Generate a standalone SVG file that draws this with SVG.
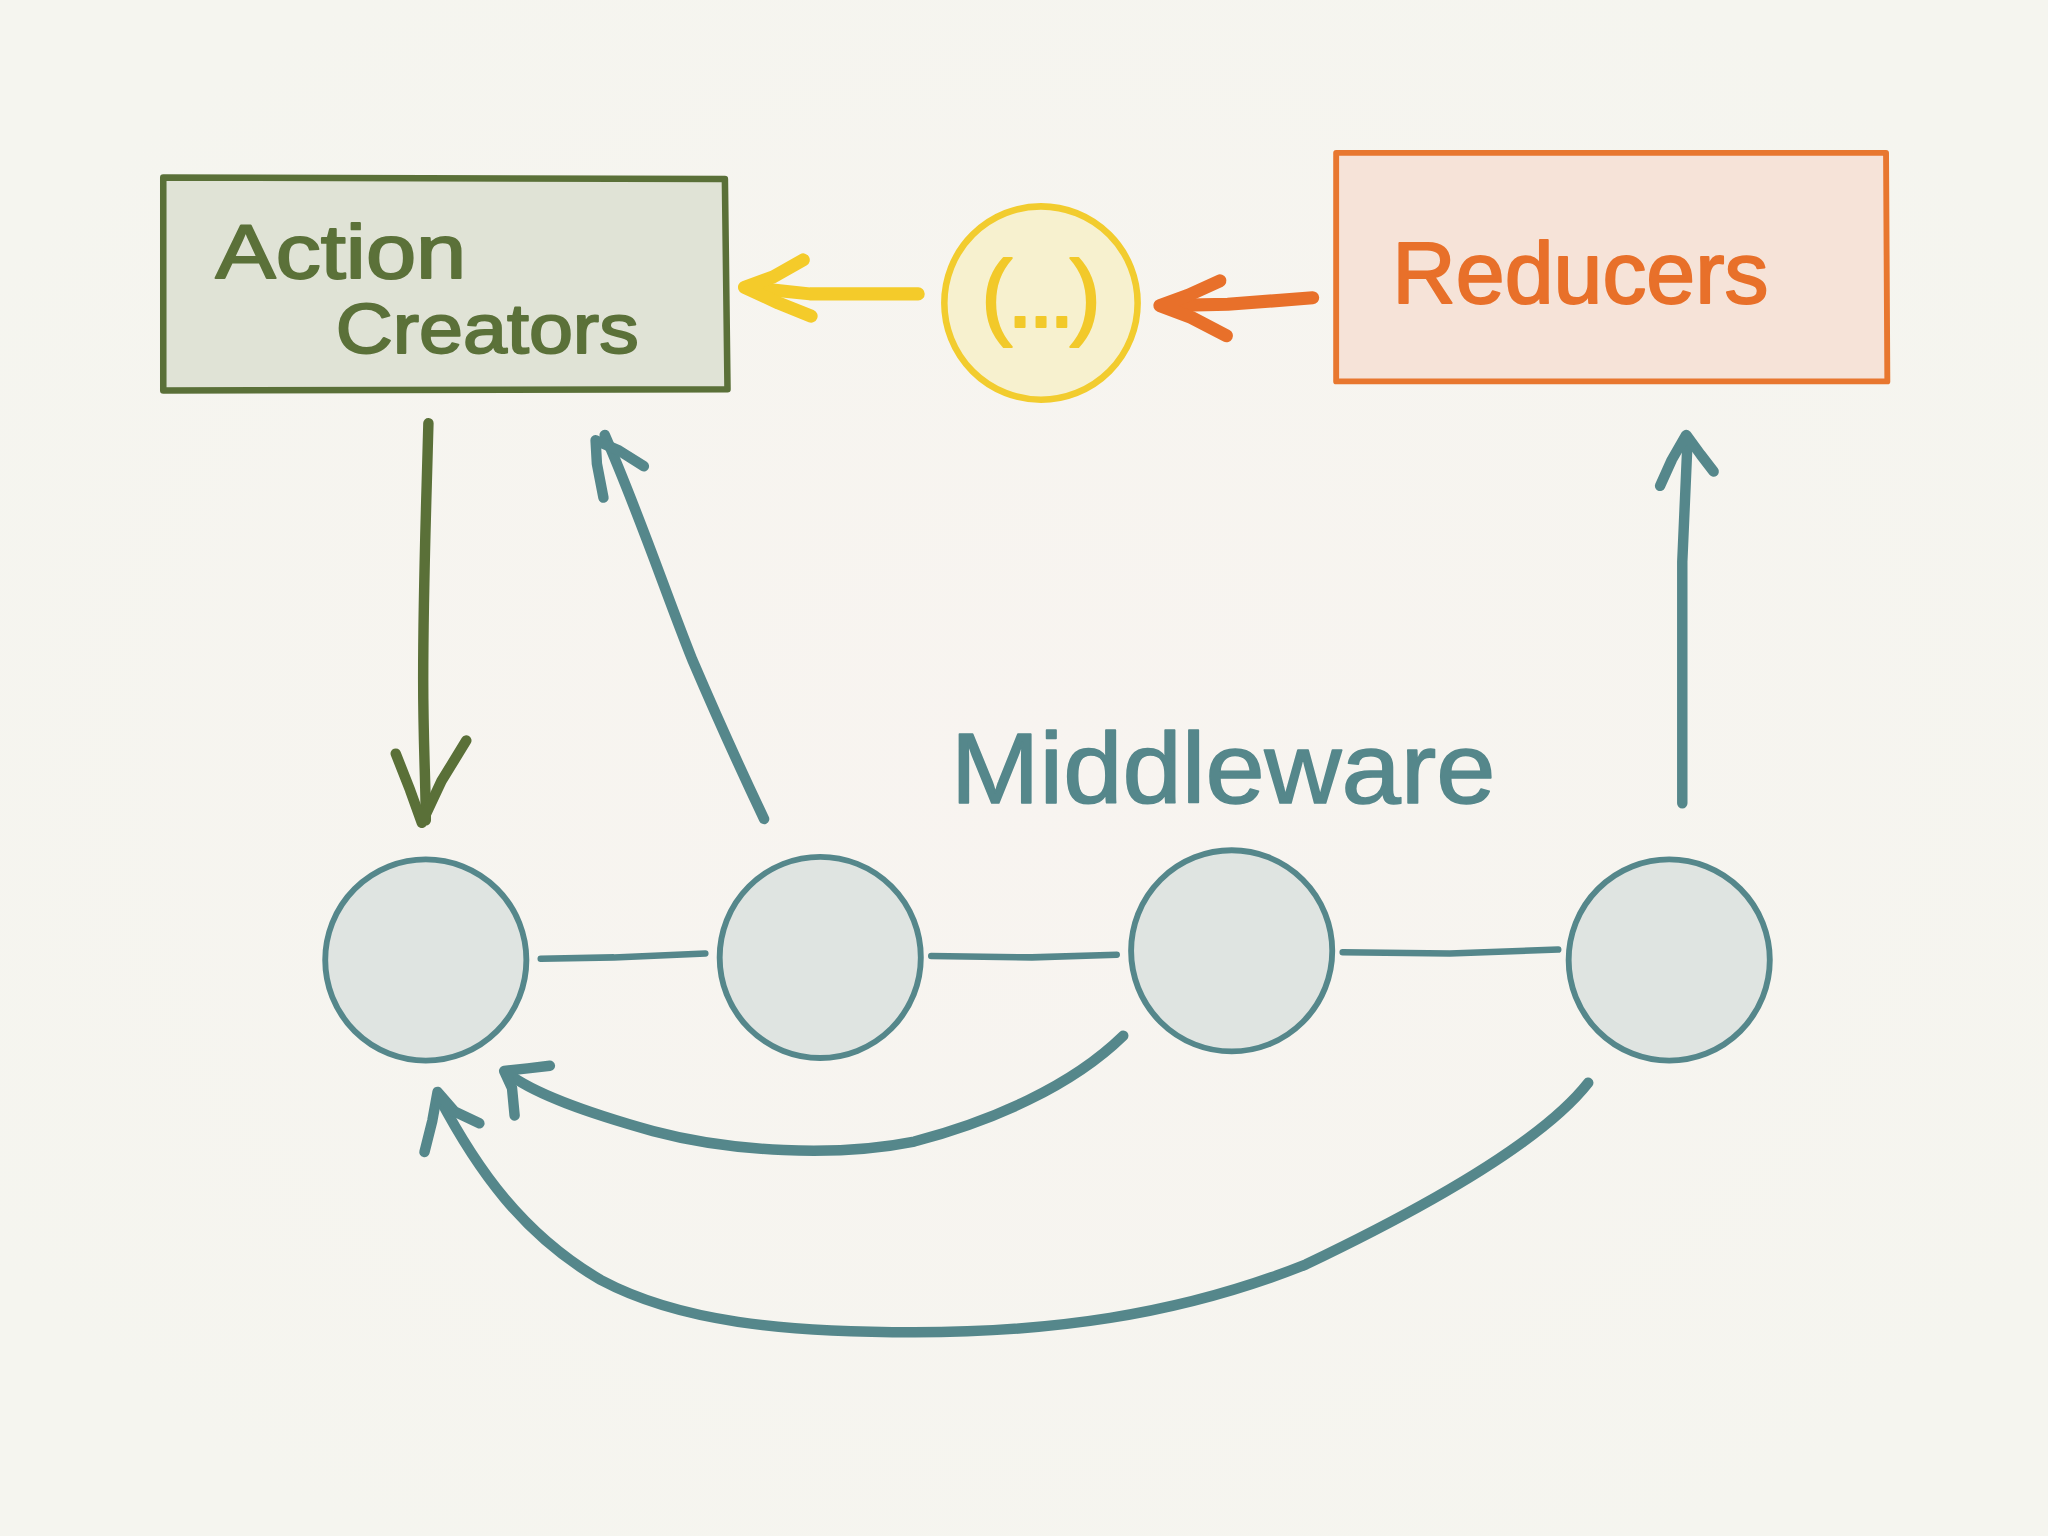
<svg xmlns="http://www.w3.org/2000/svg" width="2048" height="1536" viewBox="0 0 2048 1536">
<defs>
<radialGradient id="bg" cx="50%" cy="50%" r="60%">
<stop offset="0" stop-color="#f8f4f0"/>
<stop offset="1" stop-color="#f5f5ef"/>
</radialGradient>
<style>
.teal{fill:none;stroke:#55878b;stroke-linecap:round;stroke-linejoin:round}
.node{fill:#dfe4e1;stroke:#55878b;stroke-width:4.5}
.lbl{font-family:"Liberation Sans","DejaVu Sans",sans-serif;stroke-linejoin:round}
.arr{fill:none;stroke-linecap:round;stroke-linejoin:round}
</style>
</defs>
<rect width="2048" height="1536" fill="url(#bg)"/>
<g transform="scale(1.306122)">
<g id="action-creators">
<path d="M125,136 L555,137 L557,298 L125,299 Z" fill="#e0e3d6" stroke="#5a7038" stroke-width="5" stroke-linejoin="round"/>
<text class="lbl" x="165" y="213" font-size="58" fill="#5b7139" stroke="#5b7139" stroke-width="1.5" textLength="192" lengthAdjust="spacingAndGlyphs">Action</text>
<text class="lbl" x="257" y="270" font-size="54" fill="#5b7139" stroke="#5b7139" stroke-width="1.5" textLength="232" lengthAdjust="spacingAndGlyphs">Creators</text>
</g>
<g id="reducers">
<path d="M1023,117 L1444,117 L1445,292 L1023,292 Z" fill="#f6e3d8" stroke="#e8772f" stroke-width="4.5" stroke-linejoin="round"/>
<text class="lbl" x="1066" y="232" font-size="66" fill="#e8702a" stroke="#e8702a" stroke-width="1.5" textLength="288" lengthAdjust="spacingAndGlyphs">Reducers</text>
</g>
<g id="selector">
<circle cx="797" cy="232" r="74" fill="#f7f1cf" stroke="#f2cc2e" stroke-width="5"/>
<text class="lbl" x="797" y="250" font-size="72" fill="#f2c92a" stroke="#f2c92a" stroke-width="1.5" text-anchor="middle" textLength="92" lengthAdjust="spacing">(...)</text>
</g>
<g id="middleware-label">
<text class="lbl" x="728" y="615" font-size="76" fill="#55878b" stroke="#55878b" stroke-width="1.2" textLength="417" lengthAdjust="spacingAndGlyphs">Middleware</text>
</g>
<g id="mw1"><circle class="node" cx="326" cy="735" r="77"/></g>
<g id="mw2"><circle class="node" cx="628" cy="733" r="77"/></g>
<g id="mw3"><circle class="node" cx="943" cy="728" r="77"/></g>
<g id="mw4"><circle class="node" cx="1278" cy="735" r="77"/></g>
<g id="connectors">
<path class="arr" d="M703,225 L620,225 L572,220" stroke="#f4cb2a" stroke-width="10"/>
<path class="arr" d="M615,199 L592,212 L570,220 L596,232 L621,242" stroke="#f4cb2a" stroke-width="10"/>
<path class="arr" d="M1005,228 L940,233 L890,234" stroke="#e8702a" stroke-width="10"/>
<path class="arr" d="M934,215 L910,226 L888,234 L912,243 L939,257" stroke="#e8702a" stroke-width="10"/>
<path class="arr" d="M328,324 C326,400 324,450 324,520 C324,570 326,600 326,628" stroke="#5a7038" stroke-width="8"/>
<path class="arr" d="M303,577 L314,605 L323,630 L338,598 L357,567" stroke="#5a7038" stroke-width="8"/>
<path class="teal" stroke-width="5" d="M414,734 L470,733 L540,730"/>
<path class="teal" stroke-width="5" d="M713,732 L790,733 L855,731"/>
<path class="teal" stroke-width="5" d="M1028,729 L1110,730 L1193,727"/>
<path class="teal" stroke-width="8" d="M585,627 C565,585 545,540 530,505 C510,455 490,395 463,333"/>
<path class="teal" stroke-width="8" d="M462,381 L457,355 L456,337 L474,345 L493,357"/>
<path class="teal" stroke-width="8" d="M1288,615 L1288,430 L1292,338"/>
<path class="teal" stroke-width="8" d="M1271,372 L1280,352 L1291,333 L1302,348 L1312,361"/>
<path class="teal" stroke-width="8" d="M860,793 C820,832 760,858 700,874 C640,886 560,882 500,866 C450,852 410,838 389,822"/>
<path class="teal" stroke-width="8" d="M394,854 L392,833 L386,820 L404,818 L421,816"/>
<path class="teal" stroke-width="8" d="M1216,829 C1180,875 1090,925 1000,968 C900,1008 800,1020 700,1020 C600,1020 520,1012 460,980 C400,945 365,895 336,840"/>
<path class="teal" stroke-width="8" d="M325,882 L331,858 L335,836 L348,851 L367,860"/>
</g>
</g>
</svg>
